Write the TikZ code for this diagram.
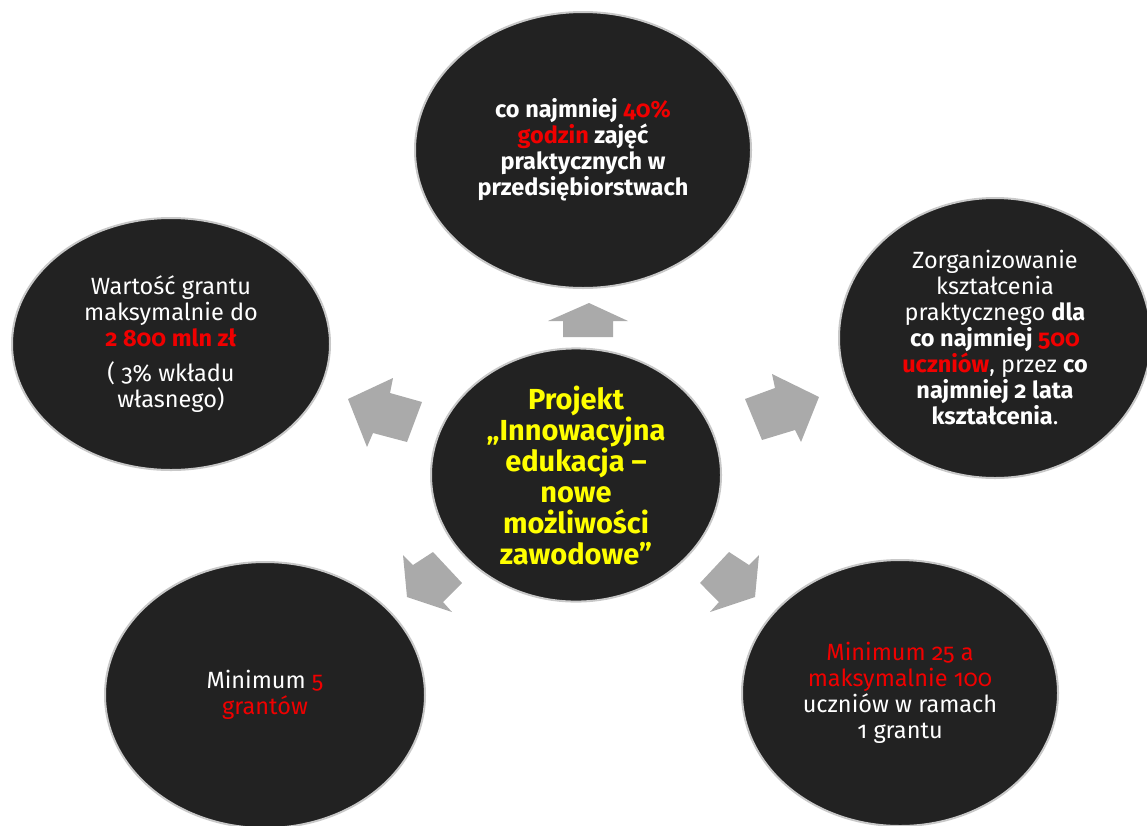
\documentclass[tikz,border=0pt]{standalone}
\usepackage{fontspec}
\setmainfont{Fira Sans}[Numbers=OldStyle]
\usetikzlibrary{shapes.geometric}
\definecolor{disc}{RGB}{34,34,34}
\definecolor{rim}{RGB}{200,200,200}
\definecolor{hot}{RGB}{240,0,0}
\definecolor{arrowgray}{RGB}{170,170,170}
\definecolor{gold}{RGB}{255,255,0}
\newcommand{\hl}[1]{\textcolor{hot}{#1}}
\tikzset{
  disk/.style={ellipse, fill=disc, draw=rim, line width=2pt, inner sep=0pt, text=white, align=center,
    font=\fontsize{23.5}{26}\selectfont},
  blockarrow/.style={fill=arrowgray, draw=none}
}
\begin{document}
\begin{tikzpicture}[x=1pt,y=-1pt]
\useasboundingbox (0,0) rectangle (1147,825);
% outer disks
\node[disk, minimum width=336pt, minimum height=276pt] (top) at (583,150)
  {\bfseries co najmniej \hl{40\%}\\ \bfseries\hl{godzin} zajęć\\ \bfseries praktycznych w\\ \bfseries przedsiębiorstwach};
\node[disk, minimum width=318pt, minimum height=252pt] (left) at (171,344)
  {Wartość grantu\\ maksymalnie do\\ \textbf{\hl{2 800 mln zł}}\\[9pt] ( 3\% wkładu\\ własnego)};
\node[disk, minimum width=312pt, minimum height=280pt] (right) at (995,338)
  {Zorganizowanie\\ kształcenia\\ praktycznego \textbf{dla}\\ \textbf{co najmniej \hl{500}}\\ \textbf{\hl{uczniów}}, przez \textbf{co}\\ \textbf{najmniej 2 lata}\\ \textbf{kształcenia}.};
\node[disk, minimum width=320pt, minimum height=266pt] (bl) at (265,695)
  {Minimum \hl{5}\\ \hl{grantów}};
\node[disk, minimum width=316pt, minimum height=266pt] (br) at (900,693)
  {\hl{Minimum 25 a}\\ \hl{maksymalnie 100}\\ uczniów w ramach\\ 1 grantu};
% centre disk
\node[disk, minimum width=290pt, minimum height=248pt, text=gold, font=\fontsize{29}{31}\selectfont\bfseries] (center) at (576,475)
  {Projekt\\ „Innowacyjna\\ edukacja –\\ nowe\\ możliwości\\ zawodowe”};
% block arrows
\fill[blockarrow] (589,303) -- (628,321) -- (613,321) -- (613,337) -- (563,337) -- (563,321) -- (548,321) -- cycle;
\fill[blockarrow] (819,397) -- (801,442) -- (795,430) -- (762,440) -- (745,399) -- (775,388) -- (772,374) -- cycle;
\fill[blockarrow] (348,399) -- (393,378) -- (390,393) -- (422,402) -- (407,442) -- (373,433) -- (367,447) -- cycle;
\fill[blockarrow] (407,597) -- (403,555) -- (413,565) -- (433,552) -- (462,583) -- (443,602) -- (452,612) -- cycle;
\fill[blockarrow] (755,597) -- (759,555) -- (749,565) -- (729,552) -- (700,583) -- (719,602) -- (710,612) -- cycle;
\end{tikzpicture}
\end{document}
